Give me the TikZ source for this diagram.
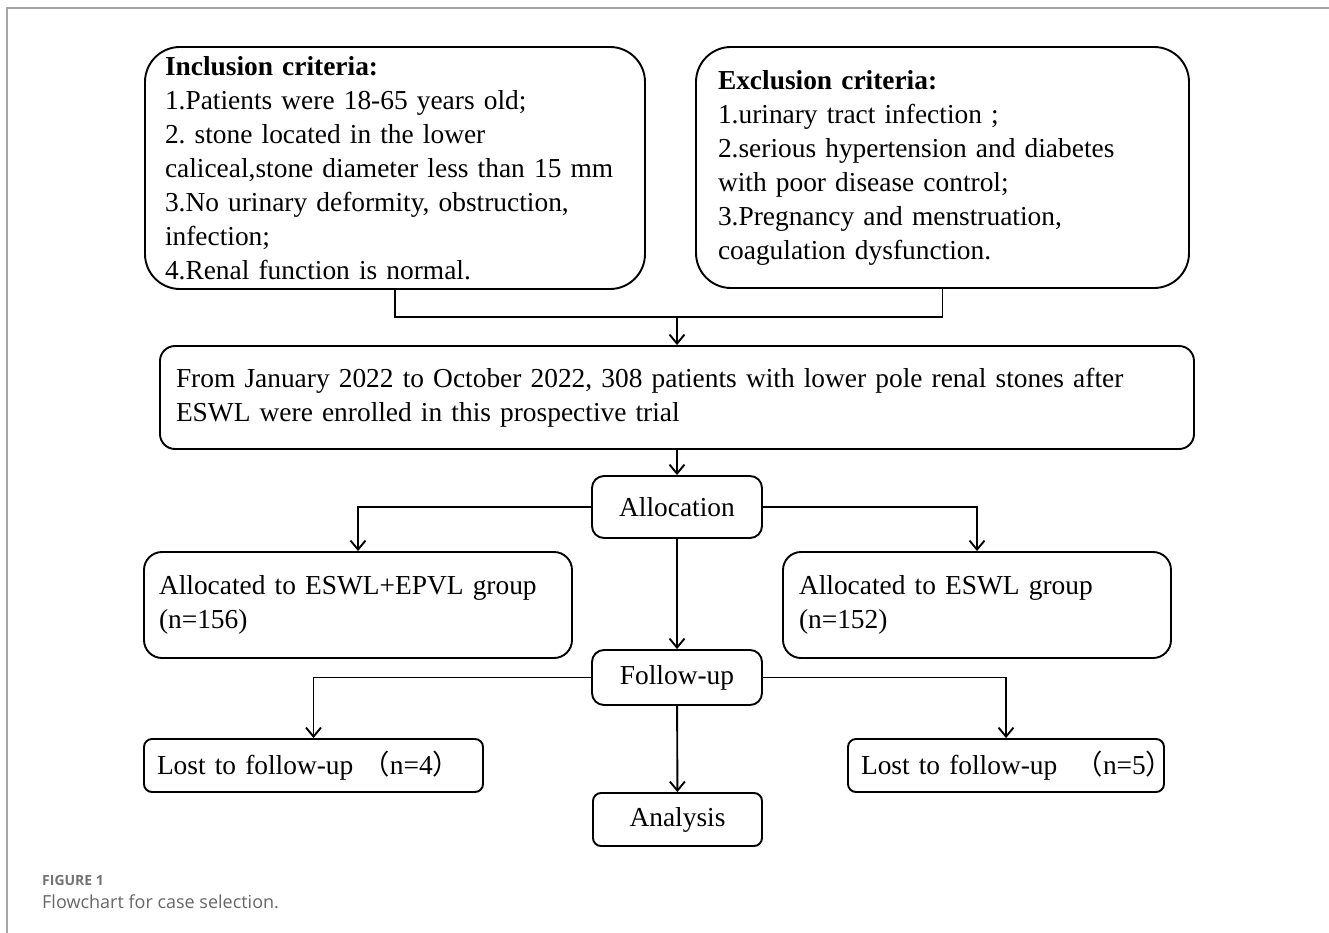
\documentclass[tikz,border=0pt]{standalone}
\usepackage{fontspec}
\setmainfont{Liberation Serif}
\newfontfamily\cjk{Noto Sans CJK SC}
\newfontfamily\capfont{Open Sans}
\usetikzlibrary{arrows.meta}
\frenchspacing
\begin{document}
\begin{tikzpicture}[x=1pt,y=-1pt,
  cb/.style={draw, line width=1.9pt, font=\frenchspacing\fontsize{27.4}{34}\selectfont, inner ysep=0pt},
  ln/.style={line width=1.9pt},
  ar/.style={line width=1.9pt, -{Straight Barb[length=9pt,width=15pt,line width=1.9pt]}},
]
\useasboundingbox (0,0) rectangle (1329,933);
\draw[gray!70, line width=1.5pt] (7,933) -- (7,8) -- (1329,8);

\node[cb, rounded corners=35pt, minimum width=500pt, minimum height=242pt, text width=460pt, inner xsep=20pt, align=left] (inc) at (395,168)
 {\textbf{Inclusion criteria:}\\1.Patients were 18-65 years old;\\2. stone located in the lower\\caliceal,stone diameter less than 15 mm\\3.No urinary deformity, obstruction,\\infection;\\4.Renal function is normal.};

\node[cb, rounded corners=35pt, minimum width=493pt, minimum height=241pt, text width=449pt, inner xsep=22pt, align=left] (exc) at (942.5,167.5)
 {\textbf{Exclusion criteria:}\\1.urinary tract infection ;\\2.serious hypertension and diabetes\\with poor disease control;\\3.Pregnancy and menstruation,\\coagulation dysfunction.};

\node[cb, rounded corners=15pt, minimum width=1034pt, minimum height=103pt, text width=1002pt, inner xsep=16pt, align=left] (enr) at (677,397.5)
 {From January 2022 to October 2022, 308 patients with lower pole renal stones after\\ESWL were enrolled in this prospective trial};

\node[cb, rounded corners=12pt, minimum width=170pt, minimum height=62pt] (alloc) at (677,507) {Allocation};

\node[cb, rounded corners=18pt, minimum width=428pt, minimum height=106pt, text width=398pt, inner xsep=15pt, align=left] (la) at (358,605)
 {Allocated to ESWL+EPVL group\\(n=156)};

\node[cb, rounded corners=18pt, minimum width=388pt, minimum height=106pt, text width=356pt, inner xsep=16pt, align=left] (ra) at (977,605)
 {Allocated to ESWL group\\(n=152)};

\node[cb, rounded corners=12pt, minimum width=170pt, minimum height=55pt] (fu) at (677,677.5) {Follow-up};

\node[cb, rounded corners=8pt, minimum width=339pt, minimum height=53pt, text width=313pt, inner xsep=13pt, align=left] (ll) at (313.5,765.5)
 {\mbox{Lost to follow-up {\cjk （}n=4{\cjk ）}}};

\node[cb, rounded corners=8pt, minimum width=316pt, minimum height=53pt, text width=290pt, inner xsep=13pt, align=left] (lr) at (1006,765.5)
 {\mbox{Lost to follow-up\ \ {\cjk （}n=5{\cjk ）}}};

\node[cb, rounded corners=8pt, minimum width=169pt, minimum height=53pt] (an) at (677.5,819.5) {Analysis};

\coordinate (j) at (677,317);
\draw[ln] (inc.south) |- (j) -| (exc.south);
\draw[ar] (j) -- (enr.north);
\draw[ar] (enr) -- (alloc);
\draw[ar] (alloc.west) -| (la.north);
\draw[ar] (alloc.east) -| (ra.north);
\draw[ar] (alloc) -- (fu);
\draw[ar] (fu.west) -| (ll.north);
\draw[ar] (fu.east) -| (lr.north);
\draw[ar] (fu) -- (an);

\node[anchor=base west, inner sep=0pt, text=black!55, font=\capfont\bfseries\fontsize{14}{16}\selectfont] (figlabel) at (42,885) {FIGURE 1};
\node[anchor=base west, inner sep=0pt, text=black!60, font=\capfont\fontsize{18}{21}\selectfont] (figcap) at (42,908) {Flowchart for case selection.};
\end{tikzpicture}
\end{document}
